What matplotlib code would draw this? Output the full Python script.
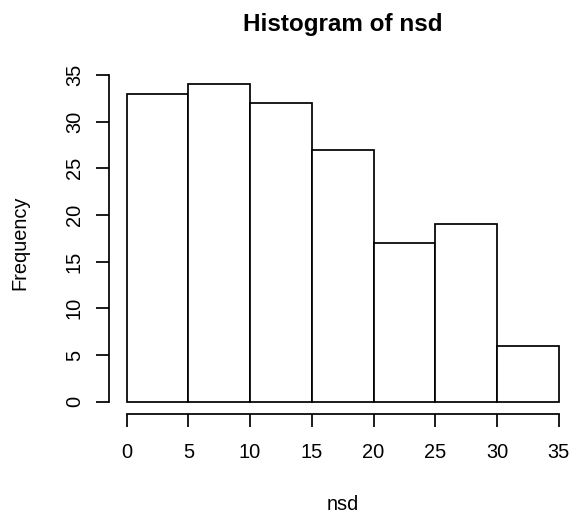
import matplotlib.pyplot as plt

# histogram of nsd: bin edges and counts per bin
breaks = [0, 5, 10, 15, 20, 25, 30, 35]
counts = [33, 34, 32, 27, 17, 19, 6]
xticks = [0, 5, 10, 15, 20, 25, 30, 35]
yticks = [0, 5, 10, 15, 20, 25, 30, 35]

plt.rcParams['font.family'] = ['Liberation Sans', 'DejaVu Sans']

W, H = 577, 518
fig = plt.figure(figsize=(W / 100, H / 100), dpi=100)
# plot region in pixels: left 109.4, right 576, top 71.6, bottom 414.4
ax = fig.add_axes([109.4 / W, 1 - 414.4 / H, (576 - 109.4) / W, (414.4 - 71.6) / H])

lw = 1.25
ax.bar(breaks[:-1], counts, width=5, align='edge', facecolor='white',
       edgecolor='black', linewidth=lw)

# R style: 4% padding around the data range
ax.set_xlim(-1.4, 36.4)
ax.set_ylim(-1.36, 35.36)

for side in ['top', 'right']:
    ax.spines[side].set_visible(False)
ax.spines['left'].set_bounds(0, 35)
ax.spines['bottom'].set_bounds(0, 35)
for side in ['left', 'bottom']:
    ax.spines[side].set_linewidth(lw)

ax.set_xticks(xticks)
ax.set_yticks(yticks)
ax.set_yticklabels([str(v) for v in yticks], rotation=90, va='center')
ax.tick_params(axis='both', direction='out', length=9.4, width=lw,
               labelsize=14.4, colors='black')
ax.tick_params(axis='x', pad=11)
ax.tick_params(axis='y', pad=9)

fig.text(342.7 / W, 1 - 31 / H, 'Histogram of nsd', ha='center', va='baseline',
         fontsize=17.5, fontweight='bold')
fig.text(342.7 / W, 1 - 510 / H, 'nsd', ha='center', va='baseline', fontsize=14.4)
fig.text(19.5 / W, 1 - 243 / H, 'Frequency', ha='center', va='center',
         rotation=90, fontsize=14.4)

fig.savefig('out.png', dpi=100)
